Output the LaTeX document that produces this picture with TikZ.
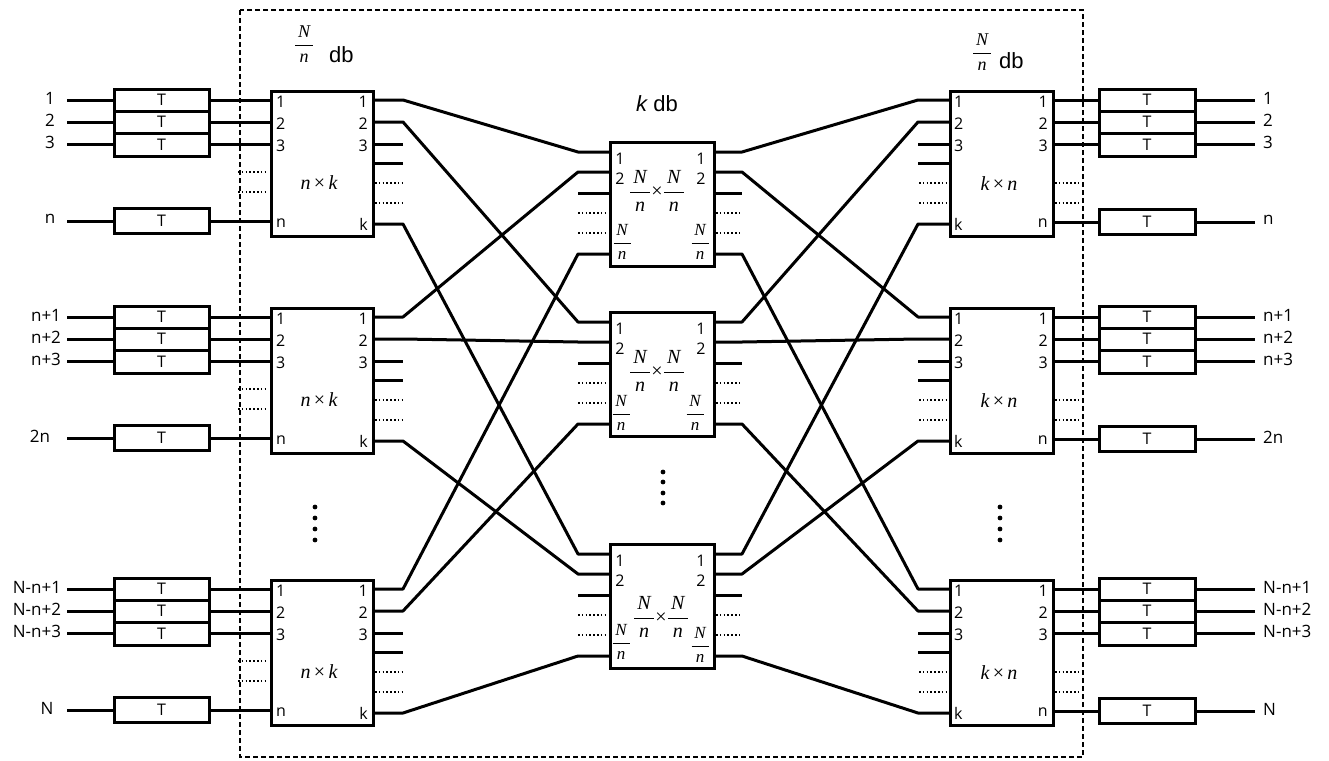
\RequirePackage{fix-cm}
\documentclass[tikz,border=0pt]{standalone}
\usepackage{amsmath}
\usepackage{fontspec}
\setmainfont{Open Sans}
\newfontfamily\arial{Liberation Sans}
\newfontfamily\tms{Liberation Serif}
\newcommand\tfr[2]{\ensuremath{\dfrac{\text{\tms\itshape \,#1\,}}{\text{\tms\itshape #2}}}}
\newcommand\tmul[2]{{\tms\itshape #1}{\tms\,×\,}{\tms\itshape #2}}
\newcommand\tx{{\tms ×}}
\begin{document}
\begin{tikzpicture}[x=1pt,y=-1pt,
  ln/.style={line width=3pt},
  dl/.style={line width=1.5pt, dash pattern=on 1.6pt off 2.2pt},
  blk/.style={draw, line width=3pt, anchor=north west, inner sep=0pt},
  tb/.style={draw, line width=3pt, minimum width=95pt, minimum height=22pt, inner sep=0pt, font=\fontsize{16}{16}\selectfont},
  lbl/.style={inner sep=0pt, font=\fontsize{17}{17}\selectfont},
  pl/.style={inner sep=0pt, font=\fontsize{16}{16}\selectfont},
  mth/.style={inner sep=0pt, font=\fontsize{20}{22}\selectfont},
  bigfr/.style={inner sep=0pt, font=\fontsize{20}{22}\selectfont},
  smfr/.style={inner sep=0pt, font=\fontsize{17}{18}\selectfont},
  hfr/.style={inner sep=0pt, font=\fontsize{18}{19}\selectfont},
  hd/.style={inner sep=0pt, font=\fontsize{22}{24}\selectfont\arial},
  dotc/.style={fill, circle, inner sep=0pt, minimum size=4.8pt}]
\useasboundingbox (0,0) rectangle (1329,760);
\draw[line width=1.5pt, dash pattern=on 5pt off 3pt] (240,10) rectangle (1083,757);

% ---------- left side ----------
\foreach \bi/\yt/\lA/\lB/\lC/\lD/\xA/\xD in {1/90/1/2/3/n/50/50, 2/307/n+1/n+2/n+3/2n/46/40, 3/579/N-n+1/N-n+2/N-n+3/N/37/47} {
  \node[blk, minimum width=102pt, minimum height=145pt] (L\bi) at (270,\yt) {};
  \node[mth] at (319,\yt+93) {\tmul{n}{k}};
  \node[tb] (LT\bi a) at (161.5,\yt+10) {T};
  \node[tb] (LT\bi b) at (161.5,\yt+32) {T};
  \node[tb, minimum height=23pt] (LT\bi c) at (161.5,\yt+54.5) {T};
  \node[tb, minimum height=25pt] (LT\bi d) at (161.5,\yt+131) {T};
  \coordinate (Ls\bi a) at (67,\yt+10);
  \coordinate (Ls\bi b) at (67,\yt+32);
  \coordinate (Ls\bi c) at (67,\yt+54.5);
  \coordinate (Ls\bi d) at (67,\yt+131);
  \foreach \p in {a,b,c,d} {
    \draw[ln] (Ls\bi\p) -- (LT\bi\p.west);
    \draw[ln] (LT\bi\p.east) -- (LT\bi\p.east -| L\bi.west);
  }
  \node[lbl] at (\xA,\yt+8) {\lA};
  \node[lbl] at (\xA,\yt+30) {\lB};
  \node[lbl] at (\xA,\yt+52) {\lC};
  \node[lbl] at (\xD,\yt+129) {\lD};
  \draw[dl] (238,\yt+82) -- (268,\yt+82);
  \draw[dl] (238,\yt+102) -- (268,\yt+102);
  % outputs
  \coordinate (Lo\bi a) at (403,\yt+10);
  \coordinate (Lo\bi b) at (403,\yt+32);
  \coordinate (Lo\bi c) at (403,\yt+54);
  \coordinate (Lo\bi d) at (403,\yt+73);
  \coordinate (Lo\bi k) at (403,\yt+134);
  \draw[ln] (L\bi.east |- Lo\bi c) -- (Lo\bi c);
  \draw[ln] (L\bi.east |- Lo\bi d) -- (Lo\bi d);
  \draw[dl] (375,\yt+93) -- (402,\yt+93);
  \draw[dl] (375,\yt+113) -- (402,\yt+113);
  \node[pl, anchor=west] at (276,\yt+12) {1};
  \node[pl, anchor=west] at (276,\yt+34) {2};
  \node[pl, anchor=west] at (276,\yt+56) {3};
  \node[pl, anchor=west] at (276,\yt+133) {n};
  \node[pl, anchor=east] at (368,\yt+12) {1};
  \node[pl, anchor=east] at (368,\yt+34) {2};
  \node[pl, anchor=east] at (368,\yt+56) {3};
  \node[pl, anchor=east] at (368,\yt+134) {k};
}

% ---------- right side ----------
\foreach \bi/\yt/\lA/\lB/\lC/\lD in {1/90/1/2/3/n, 2/307/n+1/n+2/n+3/2n, 3/579/N-n+1/N-n+2/N-n+3/N} {
  \node[blk, minimum width=103pt, minimum height=145pt] (R\bi) at (949,\yt) {};
  \node[mth] at (999,\yt+94) {\tmul{k}{n}};
  \node[tb, minimum width=96pt] (RT\bi a) at (1147,\yt+10) {T};
  \node[tb, minimum width=96pt] (RT\bi b) at (1147,\yt+32) {T};
  \node[tb, minimum width=96pt, minimum height=23pt] (RT\bi c) at (1147,\yt+54.5) {T};
  \node[tb, minimum width=96pt, minimum height=25pt] (RT\bi d) at (1147,\yt+132) {T};
  \coordinate (Rs\bi a) at (1255,\yt+10);
  \coordinate (Rs\bi b) at (1255,\yt+32);
  \coordinate (Rs\bi c) at (1255,\yt+54.5);
  \coordinate (Rs\bi d) at (1255,\yt+132);
  \foreach \p in {a,b,c,d} {
    \draw[ln] (RT\bi\p.east) -- (Rs\bi\p);
    \draw[ln] (R\bi.east |- RT\bi\p.west) -- (RT\bi\p.west);
  }
  \node[lbl, anchor=west] at (1263,\yt+8) {\lA};
  \node[lbl, anchor=west] at (1263,\yt+30) {\lB};
  \node[lbl, anchor=west] at (1263,\yt+52) {\lC};
  \node[lbl, anchor=west] at (1263,\yt+130) {\lD};
  \draw[dl] (1055,\yt+93) -- (1081,\yt+93);
  \draw[dl] (1055,\yt+113) -- (1081,\yt+113);
  % inputs
  \coordinate (Ri\bi a) at (918,\yt+10);
  \coordinate (Ri\bi b) at (918,\yt+32);
  \coordinate (Ri\bi c) at (918,\yt+54);
  \coordinate (Ri\bi d) at (918,\yt+73);
  \coordinate (Ri\bi k) at (918,\yt+134);
  \draw[ln] (Ri\bi c) -- (R\bi.west |- Ri\bi c);
  \draw[ln] (Ri\bi d) -- (R\bi.west |- Ri\bi d);
  \draw[dl] (919,\yt+93) -- (946,\yt+93);
  \draw[dl] (919,\yt+113) -- (946,\yt+113);
  \node[pl, anchor=west] at (954,\yt+12) {1};
  \node[pl, anchor=west] at (954,\yt+34) {2};
  \node[pl, anchor=west] at (954,\yt+56) {3};
  \node[pl, anchor=west] at (954,\yt+134) {k};
  \node[pl, anchor=east] at (1048,\yt+12) {1};
  \node[pl, anchor=east] at (1048,\yt+34) {2};
  \node[pl, anchor=east] at (1048,\yt+56) {3};
  \node[pl, anchor=east] at (1048,\yt+133) {n};
}

% ---------- middle ----------
\foreach \bi/\yt in {1/141, 2/311, 3/543} {
  \node[blk, minimum width=104pt, minimum height=124pt] (M\bi) at (609,\yt) {};
  \coordinate (Mi\bi a) at (578,\yt+11);
  \coordinate (Mi\bi b) at (578,\yt+31);
  \coordinate (Mi\bi c) at (578,\yt+113);
  \coordinate (Mo\bi a) at (742,\yt+11);
  \coordinate (Mo\bi b) at (742,\yt+31);
  \coordinate (Mo\bi c) at (742,\yt+113);
  \draw[ln] (578,\yt+52) -- (M\bi.west |- 0,\yt+52);
  \draw[ln] (M\bi.east |- 0,\yt+52) -- (742,\yt+52);
  \draw[dl] (578,\yt+72) -- (606,\yt+72);
  \draw[dl] (578,\yt+92) -- (606,\yt+92);
  \draw[dl] (716,\yt+72) -- (742,\yt+72);
  \draw[dl] (716,\yt+92) -- (742,\yt+92);
  \node[pl] at (620,\yt+18) {1};
  \node[pl] at (620,\yt+38) {2};
  \node[pl] at (701,\yt+18) {1};
  \node[pl] at (701,\yt+38) {2};
}
\node[bigfr] at (657,191) {\tfr{N}{n}\tx\tfr{N}{n}};
\node[bigfr] at (657,371) {\tfr{N}{n}\tx\tfr{N}{n}};
\node[bigfr] at (661,617) {\tfr{N}{n}\tx\tfr{N}{n}};
\node[smfr] at (622,242) {\tfr{N}{n}};
\node[smfr] at (700,242) {\tfr{N}{n}};
\node[smfr] at (621,413) {\tfr{N}{n}};
\node[smfr] at (695,413) {\tfr{N}{n}};
\node[smfr] at (621,642) {\tfr{N}{n}};
\node[smfr] at (700,645) {\tfr{N}{n}};

% ---------- connectors ----------
\foreach \l/\s/\m/\t in {1/a/1/a, 1/b/2/a, 1/k/3/a, 2/a/1/b, 2/b/2/b, 2/k/3/b, 3/a/1/c, 3/b/2/c, 3/k/3/c} {
  \draw[ln, line join=round] (L\l.east |- Lo\l\s) -- (Lo\l\s) -- (Mi\m\t) -- (M\m.west |- Mi\m\t);
}
\foreach \m/\s/\r/\t in {1/a/1/a, 1/b/2/a, 1/c/3/a, 2/a/1/b, 2/b/2/b, 2/c/3/b, 3/a/1/k, 3/b/2/k, 3/c/3/k} {
  \draw[ln, line join=round] (M\m.east |- Mo\m\s) -- (Mo\m\s) -- (Ri\r\t) -- (R\r.west |- Ri\r\t);
}

% ---------- headers ----------
\node[hfr] (hL) at (304,44) {\tfr{N}{n}};
\node[hd, anchor=west] (hLd) at (329,55) {db};
\node[hfr] (hR) at (982,52) {\tfr{N}{n}};
\node[hd, anchor=west] (hRd) at (999,61) {db};
\node[hd] (hM) at (657,104) {{\itshape k} db};

% ---------- vertical dots ----------
\foreach \y [count=\c] in {507,518,529,540} {
  \node[dotc] (dl\c) at (315,\y) {};
  \node[dotc] (dr\c) at (1000,\y) {};
}
\foreach \y [count=\c] in {472,482,493,503} {
  \node[dotc] (dm\c) at (663,\y) {};
}
\end{tikzpicture}
\end{document}
